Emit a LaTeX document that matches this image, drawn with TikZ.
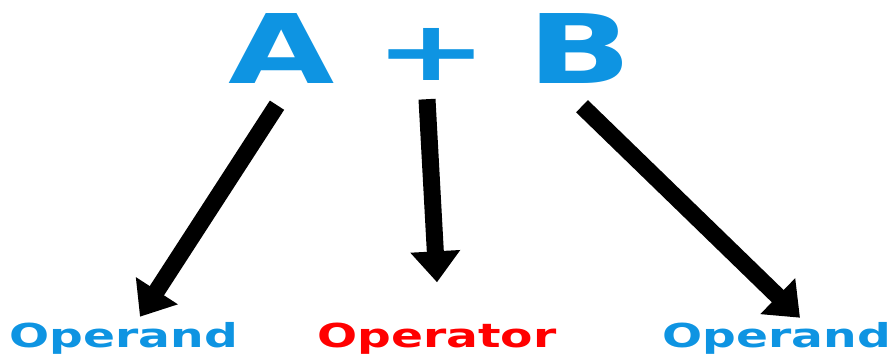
\documentclass[tikz,border=0pt]{standalone}
\usepackage{fontspec}
\usepackage{xcolor}
\usepackage{tikz}
\usetikzlibrary{arrows.meta, calc}
\newfontfamily\widefont{DejaVu Sans}[FakeStretch=1.43]
\newfontfamily\plusfont{DejaVu Sans}[FakeStretch=1.64]
\definecolor{exprblue}{RGB}{14,148,226}
\definecolor{exprred}{RGB}{255,0,0}
\tikzset{
  bigsymbol/.style={
    inner sep=0pt, anchor=base, text=exprblue,
    font=\widefont\bfseries\fontsize{96}{96}\selectfont
  },
  rolelabel/.style={
    inner sep=0pt, anchor=base,
    font=\widefont\bfseries\fontsize{33}{33}\selectfont
  },
  rolearrow/.style={
    -{Triangle[length=31pt, width=48pt]}, line width=17pt, color=black
  },
}
\begin{document}
\begin{tikzpicture}[x=1pt, y=-1pt]
  \useasboundingbox (0,0) rectangle (892,356);

  % Expression
  \node[bigsymbol] (symA) at (282,83) {A};
  \node[bigsymbol, font=\plusfont\bfseries\fontsize{83}{83}\selectfont]
    (symplus) at (432,80) {+};
  \node[bigsymbol] (symB) at (580,83) {B};

  % Roles
  \node[rolelabel, text=exprblue] (leftrole) at (124,347) {Operand};
  \node[rolelabel, text=exprred] (midrole) at (437,347) {Operator};
  \node[rolelabel, text=exprblue] (rightrole) at (777,347) {Operand};

  % Pointers
  \draw[rolearrow] ([xshift=-5pt, yshift=-22pt]symA.south)
    -- ([xshift=16pt, yshift=5pt]leftrole.north);
  \draw[rolearrow] ([xshift=-5pt, yshift=-19pt]symplus.south)
    -- ([yshift=40pt]midrole.north);
  \draw[rolearrow] ([xshift=2pt, yshift=-23pt]symB.south)
    -- ([xshift=23pt, yshift=4pt]rightrole.north);
\end{tikzpicture}
\end{document}
